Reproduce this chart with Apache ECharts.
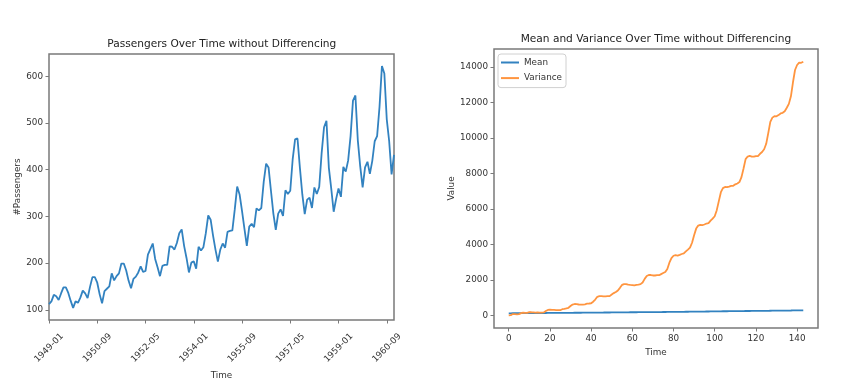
<!DOCTYPE html>
<html><head><meta charset="utf-8">
<script src="https://cdn.jsdelivr.net/npm/echarts@6/dist/echarts.min.js"></script>
<style>html,body{margin:0;padding:0;background:#fff}#c{width:850px;height:386px}</style>
</head><body><div id="c"></div>
<script>
// Monthly passengers, 1949-01 .. 1960-12
const passengers = [
112,118,132,129,121,135,148,148,136,119,104,118,
115,126,141,135,125,149,170,170,158,133,114,140,
145,150,178,163,172,178,199,199,184,162,146,166,
171,180,193,181,183,218,230,242,209,191,172,194,
196,196,236,235,229,243,264,272,237,211,180,201,
204,188,235,227,234,264,302,293,259,229,203,229,
242,233,267,269,270,315,364,347,312,274,237,278,
284,277,317,313,318,374,413,405,355,306,271,306,
315,301,356,348,355,422,465,467,404,347,305,336,
340,318,362,348,363,435,491,505,404,359,310,337,
360,342,406,396,420,472,548,559,463,407,362,405,
417,391,419,461,472,535,622,606,508,461,390,432];

const meanValues = [
112,115,120.7,122.8,122.4,124.5,127.9,130.4,131,129.8,127.5,126.7,
125.8,125.8,126.8,127.3,127.2,128.4,130.6,132.6,133.8,133.7,132.9,133.2,
133.6,134.3,135.9,136.9,138.1,139.4,141.3,143.1,144.4,144.9,144.9,145.5,
146.2,147.1,148.3,149.1,149.9,151.5,153.3,155.4,156.6,157.3,157.6,158.4,
159.1,159.9,161.4,162.8,164.0,165.5,167.3,169.2,170.4,171.1,171.2,171.7,
172.2,172.5,173.5,174.3,175.2,176.6,178.4,180.1,181.3,182.0,182.3,182.9,
183.7,184.4,185.5,186.6,187.7,189.3,191.5,193.5,194.9,195.9,196.4,197.3,
198.4,199.3,200.6,201.9,203.2,205.1,207.4,209.5,211.1,212.1,212.7,213.7,
214.8,215.6,217.1,218.4,219.7,221.7,224.1,226.4,228.1,229.2,229.9,230.9,
231.9,232.7,233.8,234.9,236.0,237.7,239.9,242.2,243.6,244.6,245.1,245.9,
246.9,247.6,248.9,250.1,251.5,253.2,255.5,257.9,259.5,260.6,261.4,262.5,
263.7,264.6,265.7,267.2,268.7,270.6,273.1,275.5,277.2,278.5,279.2,280.3];

const varianceValues = [
0,9,70,66,53,66,124,153,139,138,181,173,
169,157,161,155,146,163,241,302,317,303,306,295,
289,288,345,358,387,425,523,607,638,628,610,605,
606,619,656,666,677,768,890,1045,1084,1086,1067,1072,
1078,1083,1173,1253,1311,1400,1548,1712,1761,1759,1731,1716,
1705,1681,1716,1733,1760,1851,2055,2215,2272,2271,2245,2244,
2261,2262,2322,2382,2440,2614,2963,3224,3356,3390,3369,3408,
3455,3486,3603,3704,3812,4090,4515,4886,5058,5099,5082,5118,
5171,5193,5337,5454,5583,5925,6437,6937,7168,7233,7218,7255,
7297,7297,7381,7430,7508,7787,8272,8801,8948,8984,8944,8939,
8972,8972,9101,9201,9356,9665,10268,10901,11140,11221,11213,11283,
11376,11411,11502,11696,11915,12338,13132,13824,14106,14243,14230,14292];

const leftYTicks = [100,200,300,400,500,600];
const rightXTicks = [0,20,40,60,80,100,120,140];
const rightYTicks = [0,2000,4000,6000,8000,10000,12000,14000];

const months = [];
for (let y = 1949; y <= 1960; y++) for (let m = 1; m <= 12; m++) months.push(y + '-' + (m < 10 ? '0' + m : m));
const indexPairs = (arr) => arr.map((v, i) => [i, v]);

const FONT = 'DejaVu Sans';
const frame = '#7a7a7a';
const tickStyle = { show: true, length: 3.5, lineStyle: { color: frame, width: 1 } };
const plain = (v) => String(v);
const labelStyle = { color: '#333', fontSize: 8.8, fontFamily: FONT };
const nameStyle = { color: '#333', fontSize: 8.8, fontFamily: FONT };
const noLine = { show: false, onZero: false };

const chart = echarts.init(document.getElementById('c'), null, { renderer: 'canvas' });
chart.setOption({
  animation: false,
  backgroundColor: '#fff',
  textStyle: { fontFamily: FONT },
  title: [
    { text: 'Passengers Over Time without Differencing', left: 221.8, top: 39, textAlign: 'center', padding: 0,
      textStyle: { fontSize: 10.6, fontWeight: 'normal', color: '#222', fontFamily: FONT } },
    { text: 'Mean and Variance Over Time without Differencing', left: 655.9, top: 34, textAlign: 'center', padding: 0,
      textStyle: { fontSize: 10.6, fontWeight: 'normal', color: '#222', fontFamily: FONT } }
  ],
  legend: {
    data: ['Mean', 'Variance'],
    orient: 'vertical', left: 498, top: 54,
    padding: [3, 4, 4, 3], itemGap: 4.6,
    itemWidth: 18, itemHeight: 2, icon: 'rect',
    borderColor: '#d0d0d0', borderWidth: 1, borderRadius: 3, backgroundColor: '#fff',
    textStyle: { color: '#333', fontSize: 8.8, fontFamily: FONT, lineHeight: 11 }
  },
  grid: [
    { left: 49, top: 54, width: 345, height: 266, show: true, borderColor: frame, borderWidth: 1.5, backgroundColor: '#fff', containLabel: false },
    { left: 494, top: 49, width: 324, height: 279, show: true, borderColor: frame, borderWidth: 1.5, backgroundColor: '#fff', containLabel: false }
  ],
  xAxis: [
    { type: 'category', gridIndex: 0, data: months, boundaryGap: false,
      axisLine: noLine, splitLine: { show: false },
      axisTick: Object.assign({}, tickStyle, { interval: 19, alignWithLabel: true }),
      axisLabel: Object.assign({}, labelStyle, { interval: 19, rotate: 45, align: 'center', verticalAlign: 'middle', margin: 28 }),
      name: 'Time', nameLocation: 'middle', nameGap: 50, nameTextStyle: nameStyle },
    { type: 'value', gridIndex: 1, min: -7.15, max: 150.15,
      axisLine: noLine, splitLine: { show: false },
      axisTick: Object.assign({}, tickStyle, { customValues: rightXTicks }),
      axisLabel: Object.assign({}, labelStyle, { customValues: rightXTicks, margin: 6, formatter: plain }),
      name: 'Time', nameLocation: 'middle', nameGap: 19, nameTextStyle: nameStyle }
  ],
  yAxis: [
    { type: 'value', gridIndex: 0, min: 78.1, max: 647.9,
      axisLine: noLine, splitLine: { show: false },
      axisTick: Object.assign({}, tickStyle, { customValues: leftYTicks }),
      axisLabel: Object.assign({}, labelStyle, { customValues: leftYTicks, margin: 6, formatter: plain }),
      name: '#Passengers', nameLocation: 'middle', nameRotate: 90, nameGap: 27, nameTextStyle: nameStyle },
    { type: 'value', gridIndex: 1, min: -714.6, max: 15006.6,
      axisLine: noLine, splitLine: { show: false },
      axisTick: Object.assign({}, tickStyle, { customValues: rightYTicks }),
      axisLabel: Object.assign({}, labelStyle, { customValues: rightYTicks, margin: 6, formatter: plain }),
      name: 'Value', nameLocation: 'middle', nameRotate: 90, nameGap: 32, nameTextStyle: nameStyle }
  ],
  series: [
    { name: 'Passengers', type: 'line', xAxisIndex: 0, yAxisIndex: 0, data: passengers,
      showSymbol: false, symbol: 'none', lineStyle: { color: '#3282c0', width: 1.8 }, itemStyle: { color: '#3282c0' } },
    { name: 'Mean', type: 'line', xAxisIndex: 1, yAxisIndex: 1, data: indexPairs(meanValues),
      showSymbol: false, symbol: 'none', lineStyle: { color: '#3282c0', width: 1.8 }, itemStyle: { color: '#3282c0' } },
    { name: 'Variance', type: 'line', xAxisIndex: 1, yAxisIndex: 1, data: indexPairs(varianceValues),
      showSymbol: false, symbol: 'none', lineStyle: { color: '#ff953f', width: 1.8 }, itemStyle: { color: '#ff953f' } }
  ]
});
</script></body></html>
